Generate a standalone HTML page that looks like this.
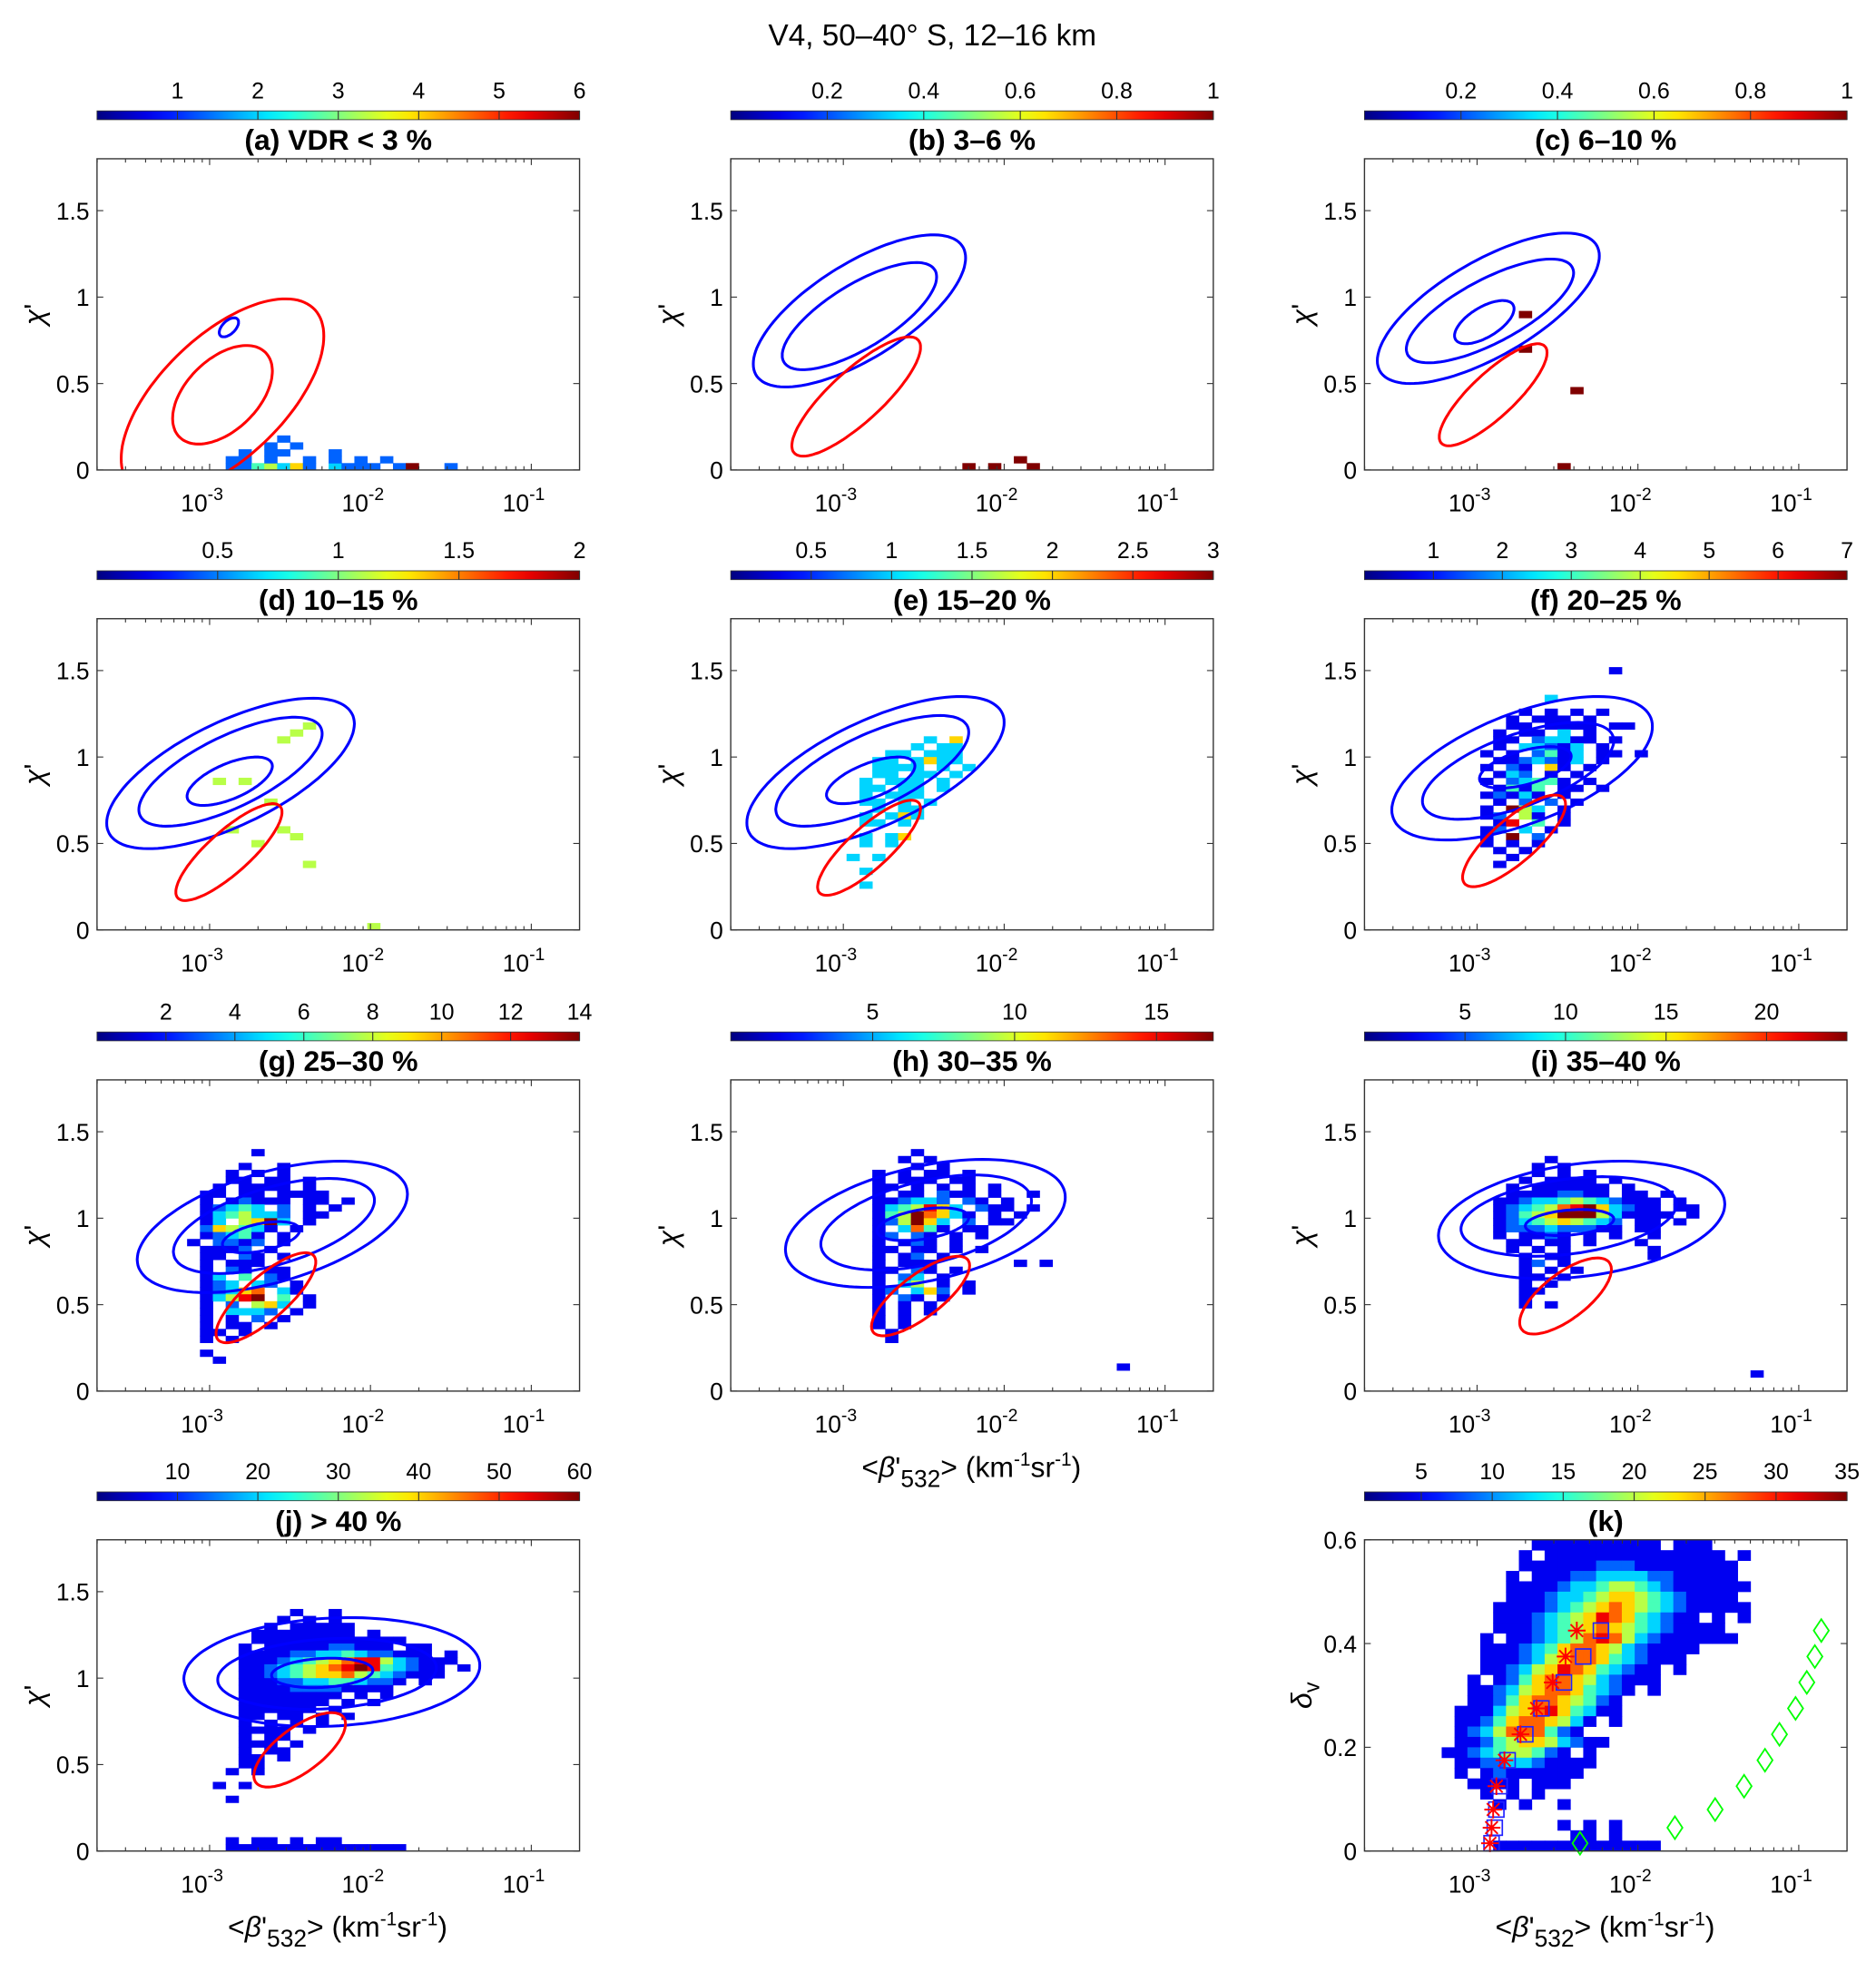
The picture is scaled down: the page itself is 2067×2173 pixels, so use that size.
<!DOCTYPE html>
<html><head><meta charset="utf-8"><style>
html,body{margin:0;padding:0;background:#fff;}
svg{display:block;font-family:"Liberation Sans",Arial,sans-serif;}
</style></head><body>
<svg id="fig" xmlns="http://www.w3.org/2000/svg" width="2067" height="2173" viewBox="0 0 1489 1565" preserveAspectRatio="none">
<rect x="0" y="0" width="1489" height="1565" fill="#fff"/>
<text x="740" y="36" font-size="24" text-anchor="middle">V4, 50–40° S, 12–16 km</text>
<text x="771" y="1172" font-size="23" text-anchor="middle">&lt;<tspan font-style="italic">β</tspan>'<tspan dy="8" font-size="19">532</tspan><tspan dy="-8">&gt; (km</tspan><tspan dy="-9" font-size="15">-1</tspan><tspan dy="9">sr</tspan><tspan dy="-9" font-size="15">-1</tspan><tspan dy="9">)</tspan></text>
<text x="268" y="1537" font-size="23" text-anchor="middle">&lt;<tspan font-style="italic">β</tspan>'<tspan dy="8" font-size="19">532</tspan><tspan dy="-8">&gt; (km</tspan><tspan dy="-9" font-size="15">-1</tspan><tspan dy="9">sr</tspan><tspan dy="-9" font-size="15">-1</tspan><tspan dy="9">)</tspan></text>
<text x="1274" y="1537" font-size="23" text-anchor="middle">&lt;<tspan font-style="italic">β</tspan>'<tspan dy="8" font-size="19">532</tspan><tspan dy="-8">&gt; (km</tspan><tspan dy="-9" font-size="15">-1</tspan><tspan dy="9">sr</tspan><tspan dy="-9" font-size="15">-1</tspan><tspan dy="9">)</tspan></text>
</svg>
<script>
// ---------- data ----------
const panelTitles = ["(a) VDR < 3 %","(b) 3–6 %","(c) 6–10 %","(d) 10–15 %","(e) 15–20 %","(f) 20–25 %","(g) 25–30 %","(h) 30–35 %","(i) 35–40 %","(j) > 40 %","(k)"];
const cbarMin = [0,0,0,0,0,0,0,0,0,0,1];
const cbarMax = [6,1,1,2,3,7,14,17,24,60,35];
const cbarTicksA = [1,2,3,4,5,6];
const cbarTicksB = [0.2,0.4,0.6,0.8,1];
const cbarTicksC = [0.2,0.4,0.6,0.8,1];
const cbarTicksD = [0.5,1,1.5,2];
const cbarTicksE = [0.5,1,1.5,2,2.5,3];
const cbarTicksF = [1,2,3,4,5,6,7];
const cbarTicksG = [2,4,6,8,10,12,14];
const cbarTicksH = [5,10,15];
const cbarTicksI = [5,10,15,20];
const cbarTicksJ = [10,20,30,40,50,60];
const cbarTicksK = [5,10,15,20,25,30,35];
const xTickExp = [-3,-2,-1];
const yTicksChi = [0,0.5,1,1.5];
const yTickLabelsChi = ["0","0.5","1","1.5"];
const yTicksDelta = [0,0.2,0.4,0.6];
const yTickLabelsDelta = ["0","0.2","0.4","0.6"];

// heatmap rows: [yBin, startXBin, levels(1-9, space empty)]
const heatA = [[0,10,"2245362 3222 29  2"],[1,10,"22 2  2 2 2 2"],[2,11,"2 22   2"],[3,12," 2 2"],[4,14,"2"]];
const heatB = [[0,18,"9 9  9"],[1,22,"9"]];
const heatC = [[22,12,"9"],[17,12,"9"],[11,16,"9"],[0,15,"9"]];
const heatD = [[29,16,"5"],[28,15,"5"],[27,14,"5"],[21,9,"5"],[21,11,"5"],[18,13,"5"],[14,10,"5"],[14,14,"5"],[13,15,"5"],[12,12,"5"],[9,16,"5"],[0,21,"5"]];
const heatE = [[27,15,"3 6"],[26,14,"3 33"],[25,12,"33 333"],[24,11,"33 3633"],[23,11,"3333 3 3"],[22,11,"33 33 3"],[21,10,"3 333 3"],[20,10,"33 33 3"],[19,10,"3 333"],[18,10,"33 3 3"],[17,10," 3 33"],[16,10,"3 363"],[15,10,"33 3"],[13,10,"3 36"],[12,10,"3 3"],[10,9,"3 3"],[8,10,"3"],[6,10,"3"]];
const heatF = [[37,19,"1"],[33,14,"3"],[31,12,"1 1 1 1"],[30,11,"1 111 1"],[29,11,"11 1111 11"],[28,10,"1 11 3 1"],[27,10,"11 23311 1"],[26,10,"1 33213 1"],[25,9,"1 1 2413 11 1"],[24,10,"1123213 1"],[23,9,"1 21 61 1"],[22,10,"132 1 1"],[21,9,"1 23441 1"],[20,10,"1414 11 1"],[19,9,"12131 1"],[18,10,"1 2 2 1"],[17,9,"1 953 1"],[16,9,"12 51 1"],[15,10,"18 4 1"],[14,9,"12 3 1"],[13,9,"1 9 2"],[12,9,"1 1 1"],[11,10,"1 1"],[10,11,"1"],[9,10,"1"]];
const heatG = [[34,12,"1"],[32,11,"1  1"],[31,10,"1 1 1"],[30,10,"11 11 1"],[29,9,"1 1111 1"],[28,8,"11 11 1111"],[27,8,"1 12111 11 1"],[26,8,"12343 2 1 1"],[25,8,"1345332 11"],[24,8,"13 5693 1"],[23,8,"265431 1"],[22,8,"12341 1"],[21,7,"1 2212 1"],[20,8,"1112 1"],[19,8,"11 21 1"],[18,8,"1 111"],[17,8,"1 21 11"],[16,8,"13 4 21"],[15,8,"123 32 1"],[14,8,"12367 31"],[13,8,"13589 4 1"],[12,8,"1 2 563 1"],[11,8,"1 3332 1"],[10,8,"1 1 2 1"],[9,8,"1 11 1"],[8,8,"11 1"],[7,8,"1 1"],[5,8,"1"],[4,9,"1"]];
const heatH = [[34,14,"1"],[33,13,"1 1"],[32,14,"1 1"],[31,11,"1 1 11 1"],[30,11,"1 111 11"],[29,11,"11 1 1 1 1"],[28,11,"1 11 211 1  1"],[27,11,"112332 21 1"],[26,11,"1345863 211 1"],[25,11,"14597631 1 1"],[24,11,"125963 2 11"],[23,11,"1 3741 11"],[22,11,"12 21 1 1"],[21,11,"1 121 1"],[20,11,"11 11 1 1"],[19,11,"1 12 1"],[18,11,"1 111      1 1"],[17,11,"11 21 1"],[16,11,"1 23 1"],[15,11,"1 35 1 1"],[14,11,"12 362 1"],[13,11,"1 21 1"],[12,11,"1 1 1"],[11,11,"1 1 1"],[10,11,"1 1"],[9,11,"1 1"],[8,12,"1"],[7,12,"1"],[3,30,"1"]];
const heatI = [[33,14,"1"],[32,13,"1 1"],[31,13,"1 1 1"],[30,12,"1 1111 1"],[29,11,"1 111111 1"],[28,11,"11112211 11 1"],[27,10,"1123345432111 1"],[26,10,"1234578963211 11"],[25,10,"12456999531111 1"],[24,10,"1234565432 11 1"],[23,10,"1222322211 11"],[22,10,"1 1121 1 1  1"],[21,11,"11 11 1   1"],[20,11,"1 1 1      1"],[19,12,"1 11      1"],[18,12,"12 1"],[17,12,"1 1 1"],[16,12,"11 1"],[15,12,"1 1"],[14,12,"11"],[13,12,"1"],[12,12,"1 1"],[2,30,"1"]];
const heatJ = [[34,15,"1  1"],[33,14,"1 1 1"],[32,13,"1 11111"],[31,12,"11111111 1"],[30,12,"111111111111"],[29,11,"1 1111122111 11"],[28,11,"111122334322111 1"],[27,11,"11123456788532111"],[26,11,"1123456789843211 1"],[25,11,"1123456675432111"],[24,11,"1112233443221 1"],[23,11,"111122221111"],[22,11,"11111111 1 1"],[21,11,"1111111 1 1"],[20,11,"111111 1"],[19,11,"11 11 1 1"],[18,11,"1 1 1 1"],[17,11,"1111 1"],[16,11,"1 11"],[15,11,"111 1"],[14,11,"1 11"],[13,11,"11 1"],[12,11,"11"],[11,10,"1 1"],[9,9,"1 1"],[7,10,"1"],[1,10,"1 11 1 11"],[0,10,"11111111111111"]];
const heatK = [[29,13,"1111111111 111"],[28,12,"1 11111111111111 1"],[27,12,"11111122211111111"],[26,11,"1 1112233332211111"],[25,11,"1111233455432111111"],[24,11,"111233456654321111"],[23,10,"11112345676543211111"],[22,10,"1112345687643211 1 1"],[21,10,"111234567654321111"],[20,9,"1 112345787532111111"],[19,9,"11123467765321111"],[18,9,"1112356776432111"],[17,9,"11235687643211 1"],[16,8,"1 1246776532111"],[15,8,"1123567764321 1"],[14,8,"112467765421"],[13,7,"1113567864311"],[12,7,"11246776531 1"],[11,7,"1235777421"],[10,7,"112456653211"],[9,6,"1123455421 1"],[8,7,"11223321111"],[7,7,"1 12111111"],[6,8,"1111 111"],[5,9,"1 1 1"],[4,10,"1 1  1"],[2,15,"1 1 1"],[1,16,"11 1"],[0,10,"1111111111111"]];

// ellipse contours: [centerLog10x, centerY, halfWidthDecades, halfHeightY, phase, color]
const ellA = [[-2.92,0.42,0.63,0.57,0.9,"red"],[-2.92,0.435,0.31,0.285,1.07,"red"],[-2.88,0.825,0.06,0.055,1.0,"blue"]];
const ellB = [[-2.9,0.92,0.66,0.44,0.8,"blue"],[-2.9,0.89,0.48,0.31,0.75,"blue"],[-2.92,0.425,0.4,0.345,0.6,"red"]];
const ellC = [[-2.93,0.935,0.69,0.435,0.8,"blue"],[-2.92,0.92,0.52,0.3,0.75,"blue"],[-2.955,0.855,0.185,0.125,0.9,"blue"],[-2.9,0.435,0.335,0.295,0.6,"red"]];
const ellD = [[-2.87,0.905,0.77,0.435,0.85,"blue"],[-2.87,0.915,0.57,0.315,0.8,"blue"],[-2.875,0.86,0.265,0.14,0.9,"blue"],[-2.88,0.45,0.33,0.28,0.6,"red"]];
const ellE = [[-2.8,0.91,0.8,0.44,0.85,"blue"],[-2.82,0.92,0.6,0.32,0.8,"blue"],[-2.83,0.865,0.275,0.135,0.9,"blue"],[-2.84,0.475,0.32,0.275,0.6,"red"]];
const ellF = [[-2.72,0.935,0.81,0.415,0.95,"blue"],[-2.745,0.92,0.595,0.28,0.9,"blue"],[-2.7,0.94,0.285,0.12,1.0,"blue"],[-2.77,0.515,0.32,0.265,0.65,"red"]];
const ellG = [[-2.61,0.95,0.84,0.38,1.05,"blue"],[-2.6,0.955,0.625,0.275,1.0,"blue"],[-2.68,0.89,0.24,0.09,1.1,"blue"],[-2.65,0.54,0.31,0.26,0.65,"red"]];
const ellH = [[-2.49,0.97,0.87,0.37,1.15,"blue"],[-2.485,0.975,0.655,0.275,1.1,"blue"],[-2.505,0.965,0.285,0.095,1.15,"blue"],[-2.52,0.55,0.305,0.23,0.7,"red"]];
const ellI = [[-2.35,0.99,0.89,0.34,1.3,"blue"],[-2.43,1.01,0.67,0.23,1.25,"blue"],[-2.425,0.975,0.275,0.075,1.3,"blue"],[-2.45,0.55,0.285,0.22,0.8,"red"]];
const ellJ = [[-2.24,1.035,0.92,0.315,1.45,"blue"],[-2.27,1.025,0.68,0.205,1.4,"blue"],[-2.3,1.03,0.315,0.085,1.4,"blue"],[-2.44,0.585,0.285,0.215,0.8,"red"]];

// panel k markers
const kStarLogX = [-2.92,-2.91,-2.9,-2.88,-2.83,-2.73,-2.63,-2.53,-2.45,-2.38];
const kStarY = [0.015,0.045,0.08,0.125,0.175,0.225,0.275,0.325,0.375,0.425];
const kSqLogX = [-2.91,-2.89,-2.88,-2.86,-2.81,-2.70,-2.60,-2.46,-2.34,-2.23];
const kSqY = [0.015,0.045,0.08,0.125,0.175,0.225,0.275,0.325,0.375,0.425];
const kDiaLogX = [-2.36,-1.77,-1.52,-1.34,-1.21,-1.12,-1.02,-0.95,-0.9,-0.86];
const kDiaY = [0.015,0.045,0.08,0.125,0.175,0.225,0.275,0.325,0.375,0.425];

// ---------- drawing ----------
const NS="http://www.w3.org/2000/svg";
const svg=document.getElementById('fig');
const colX=[77,580,1083], rowY=[126,491,857,1222], W=383, H=247;
const LOGMIN=-3.7, LOGMAX=-0.7, XBIN=0.08;
function mk(tag,attrs,parent){const e=document.createElementNS(NS,tag);for(const k in attrs)e.setAttribute(k,attrs[k]);(parent||svg).appendChild(e);return e;}
function clamp(v){return Math.max(0,Math.min(1,v));}
function jet(f){f=clamp(f);const r=clamp(1.5-Math.abs(4*f-3)),g=clamp(1.5-Math.abs(4*f-2)),b=clamp(1.5-Math.abs(4*f-1));return `rgb(${Math.round(r*255)},${Math.round(g*255)},${Math.round(b*255)})`;}
const defs=mk('defs',{});
const grad=mk('linearGradient',{id:'jetgrad',x1:'0',x2:'1',y1:'0',y2:'0'},defs);
for(let s=0;s<=20;s++){mk('stop',{offset:(s/20),'stop-color':jet(s/20)},grad);}

const panels=[
 {c:0,r:0,heat:heatA,ell:ellA,ticks:cbarTicksA},{c:1,r:0,heat:heatB,ell:ellB,ticks:cbarTicksB},{c:2,r:0,heat:heatC,ell:ellC,ticks:cbarTicksC},
 {c:0,r:1,heat:heatD,ell:ellD,ticks:cbarTicksD},{c:1,r:1,heat:heatE,ell:ellE,ticks:cbarTicksE},{c:2,r:1,heat:heatF,ell:ellF,ticks:cbarTicksF},
 {c:0,r:2,heat:heatG,ell:ellG,ticks:cbarTicksG},{c:1,r:2,heat:heatH,ell:ellH,ticks:cbarTicksH},{c:2,r:2,heat:heatI,ell:ellI,ticks:cbarTicksI},
 {c:0,r:3,heat:heatJ,ell:ellJ,ticks:cbarTicksJ},{c:2,r:3,heat:heatK,ell:[],ticks:cbarTicksK,k:true}
];
const letters="abcdefghijk";
panels.forEach((p,idx)=>{
 const x0=colX[p.c], y0=rowY[p.r], L=letters[idx];
 const ymax=p.k?0.6:1.8, ybin=p.k?0.02:0.04;
 const vmin=cbarMin[idx], vmax=cbarMax[idx];
 const sx=lg=>x0+(lg-LOGMIN)/(LOGMAX-LOGMIN)*W;
 const sy=v=>y0+H-v/ymax*H;
 const g=mk('g',{});
 
 
 const cp=mk('clipPath',{id:'clip'+L},defs);
 mk('rect',{x:x0,y:y0,width:W,height:H},cp);
 const cb=mk('rect',{x:x0,y:y0-38,width:W,height:7,fill:'url(#jetgrad)',stroke:'#333','stroke-width':0.6},g);
 
 
 p.ticks.forEach(t=>{
  const tx=x0+(t-vmin)/(vmax-vmin)*W;
  mk('line',{x1:tx,x2:tx,y1:y0-38,y2:y0-31,stroke:'#333','stroke-width':0.8},g);
  const tl=mk('text',{x:tx,y:y0-48,'font-size':18,'text-anchor':'middle'},g);
  tl.textContent=String(t);
  
  
 });
 const tt=mk('text',{x:x0+W/2,y:y0-7,'font-size':23,'font-weight':'bold','text-anchor':'middle'},g);
 tt.textContent=panelTitles[idx];
 
 
 const hg=mk('g',{'clip-path':`url(#clip${L})`},g);
 
 
 p.heat.forEach(row=>{
  const j=row[0], i0=row[1], s=row[2];
  for(let k=0;k<s.length;k++){
   const ch=s[k]; if(ch===' ')continue;
   const lev=parseInt(ch,10);
   const val=vmin+lev/9*(vmax-vmin);
   const lx=LOGMIN+(i0+k)*XBIN;
   const xa=sx(lx), xb=sx(lx+XBIN), ya=sy((j+1)*ybin), yb=sy(j*ybin);
   const c=mk('rect',{x:xa,y:ya,width:xb-xa+0.3,height:yb-ya+0.3,fill:jet((val-vmin)/(vmax-vmin))},hg);
   
   
  }
 });
 p.ell.forEach(e=>{
  let d='';
  for(let n=0;n<=120;n++){const t=n/120*2*Math.PI;const lx=e[0]+e[2]*Math.cos(t), yv=e[1]+e[3]*Math.cos(t-e[4]);d+=(n?'L':'M')+sx(lx).toFixed(1)+','+sy(yv).toFixed(1);}
  const pe=mk('path',{d:d+'Z',fill:'none',stroke:e[5]==='red'?'#f00':'#00f','stroke-width':2.2,'clip-path':`url(#clip${L})`},g);
  
  
 });
 if(p.k){
  kDiaLogX.forEach((lx,n)=>{const cx=sx(lx),cy=sy(kDiaY[n]);
   const m=mk('path',{d:`M${cx},${cy-9}L${cx+6},${cy}L${cx},${cy+9}L${cx-6},${cy}Z`,fill:'none',stroke:'#0f0','stroke-width':1.3},g);
   
   });
  kSqLogX.forEach((lx,n)=>{const cx=sx(lx),cy=sy(kSqY[n]);
   const m=mk('rect',{x:cx-6,y:cy-6,width:12,height:12,fill:'none',stroke:'#22f','stroke-width':1.2},g);
   
   });
  kStarLogX.forEach((lx,n)=>{const cx=sx(lx),cy=sy(kStarY[n]);let d='';
   for(let a=0;a<4;a++){const an=a*Math.PI/4;d+=`M${cx-7*Math.cos(an)},${cy-7*Math.sin(an)}L${cx+7*Math.cos(an)},${cy+7*Math.sin(an)}`;}
   const m=mk('path',{d:d,stroke:'#f00','stroke-width':1.4},g);
   
   });
 }
 const box=mk('rect',{x:x0,y:y0,width:W,height:H,fill:'none',stroke:'#333','stroke-width':1},g);
 
 
 for(let e=-4;e<=-1;e++){for(let m=1;m<10;m++){const lx=e+Math.log10(m);if(lx<LOGMIN||lx>LOGMAX)continue;const tx=sx(lx);const len=m===1?5:3;
  mk('line',{x1:tx,x2:tx,y1:y0+H,y2:y0+H-len,stroke:'#333','stroke-width':0.8},g);
  mk('line',{x1:tx,x2:tx,y1:y0,y2:y0+len,stroke:'#333','stroke-width':0.8},g);}}
 xTickExp.forEach(e=>{const tl=mk('text',{x:sx(e)-6,y:y0+H+33,'font-size':19,'text-anchor':'middle'},g);
  tl.innerHTML=`10<tspan dy="-9" font-size="14">${e}</tspan>`;
  
  });
 const yt=p.k?yTicksDelta:yTicksChi, ytl=p.k?yTickLabelsDelta:yTickLabelsChi;
 yt.forEach((v,n)=>{const ty=sy(v);
  mk('line',{x1:x0,x2:x0+5,y1:ty,y2:ty,stroke:'#333','stroke-width':0.8},g);
  mk('line',{x1:x0+W,x2:x0+W-5,y1:ty,y2:ty,stroke:'#333','stroke-width':0.8},g);
  const tl=mk('text',{x:x0-6,y:ty+7,'font-size':19,'text-anchor':'end'},g);
  tl.textContent=ytl[n];
  
  });
 const yl=mk('text',{x:0,y:0,'font-size':23,'text-anchor':'middle',transform:`translate(${x0-42},${y0+H/2}) rotate(-90)`},g);
 if(p.k){yl.innerHTML='<tspan font-style="italic">δ</tspan><tspan dy="6" font-size="17">v</tspan>';}
 else{yl.innerHTML='<tspan font-style="italic">χ</tspan>\'';}
 
 
});
</script>
</body></html>
